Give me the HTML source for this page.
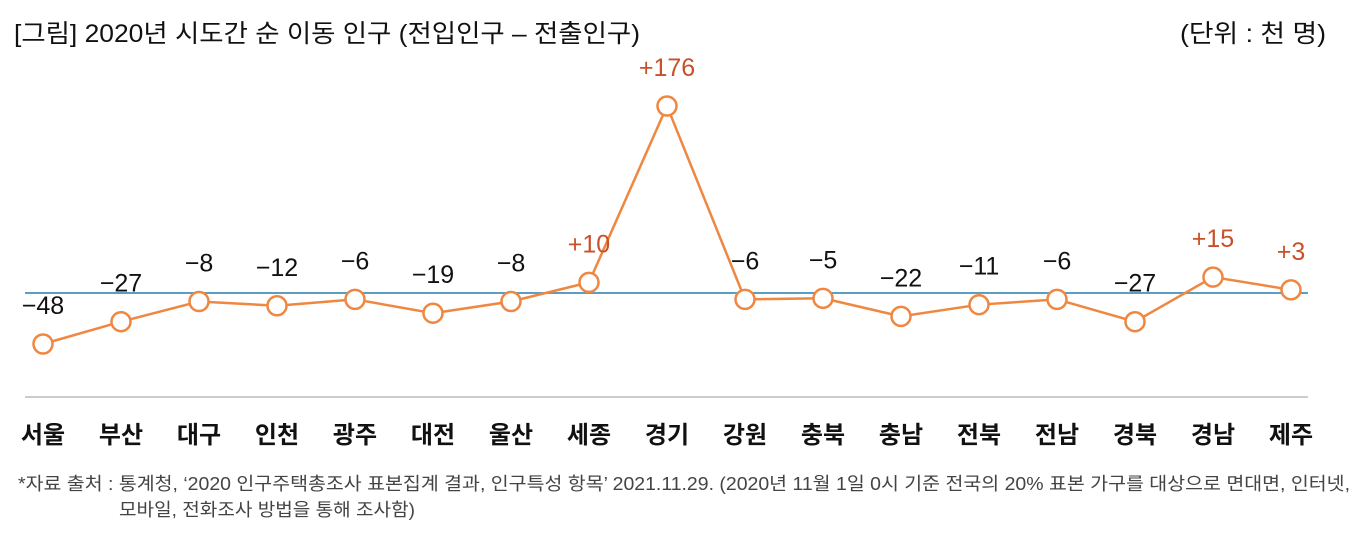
<!DOCTYPE html>
<html><head><meta charset="utf-8"><style>
body{margin:0;background:#fff;width:1372px;height:552px;overflow:hidden;font-family:"Liberation Sans","Noto Sans CJK KR",sans-serif;}
svg text{font-family:"Liberation Sans","Noto Sans CJK KR",sans-serif;}
</style></head><body>
<svg id="chart" width="1372" height="552">
<text x="14" y="42" font-size="25" fill="#111" textLength="626" lengthAdjust="spacingAndGlyphs">[그림] 2020년 시도간 순 이동 인구 (전입인구 – 전출인구)</text>
<text x="1180" y="42" font-size="25" fill="#111" textLength="146" lengthAdjust="spacingAndGlyphs">(단위 : 천 명)</text>
<line x1="25" y1="397" x2="1308" y2="397" stroke="#bbb" stroke-width="1.5"/>
<line x1="25" y1="293" x2="1308" y2="293" stroke="#5b9ec2" stroke-width="2"/>
<g id="series"></g>
<text x="18" y="490" font-size="18" fill="#444" textLength="1332" lengthAdjust="spacingAndGlyphs">*자료 출처 : 통계청, ‘2020 인구주택총조사 표본집계 결과, 인구특성 항목’ 2021.11.29. (2020년 11월 1일 0시 기준 전국의 20% 표본 가구를 대상으로 면대면, 인터넷,</text>
<text x="119" y="516" font-size="18" fill="#444" textLength="296" lengthAdjust="spacingAndGlyphs">모바일, 전화조사 방법을 통해 조사함)</text>
</svg>
<script>
const categories=["서울","부산","대구","인천","광주","대전","울산","세종","경기","강원","충북","충남","전북","전남","경북","경남","제주"];
const values=[-48,-27,-8,-12,-6,-19,-8,10,176,-6,-5,-22,-11,-6,-27,15,3];
const labels=["−48","−27","−8","−12","−6","−19","−8","+10","+176","−6","−5","−22","−11","−6","−27","+15","+3"];
const ns="http://www.w3.org/2000/svg";
const g=document.getElementById("series");
function xs(i){return 43+i*78;}
function ys(v){return 293-v*(187/176);}
function mk(t,a){const e=document.createElementNS(ns,t);for(const k in a)e.setAttribute(k,a[k]);return e;}
const line=mk("polyline",{points:values.map((v,i)=>xs(i)+","+ys(v)).join(" "),fill:"none",stroke:"#ef8741","stroke-width":"2.5"});


g.appendChild(line);
values.forEach((v,i)=>{
 const c=mk("circle",{cx:xs(i),cy:ys(v),r:9.5,fill:"#fff",stroke:"#ef8741","stroke-width":"2.5"});
 
 
 g.appendChild(c);
 const t=mk("text",{x:xs(i),y:ys(v)-30,"font-size":"25","text-anchor":"middle",fill:v>0?"#c8502a":"#111"});
 t.textContent=labels[i];
 
 
 g.appendChild(t);
 const c2=mk("text",{x:xs(i),y:443,"font-size":"24","text-anchor":"middle",fill:"#111","font-weight":"bold"});
 c2.textContent=categories[i];
 
 
 g.appendChild(c2);
});
</script>
</body></html>
